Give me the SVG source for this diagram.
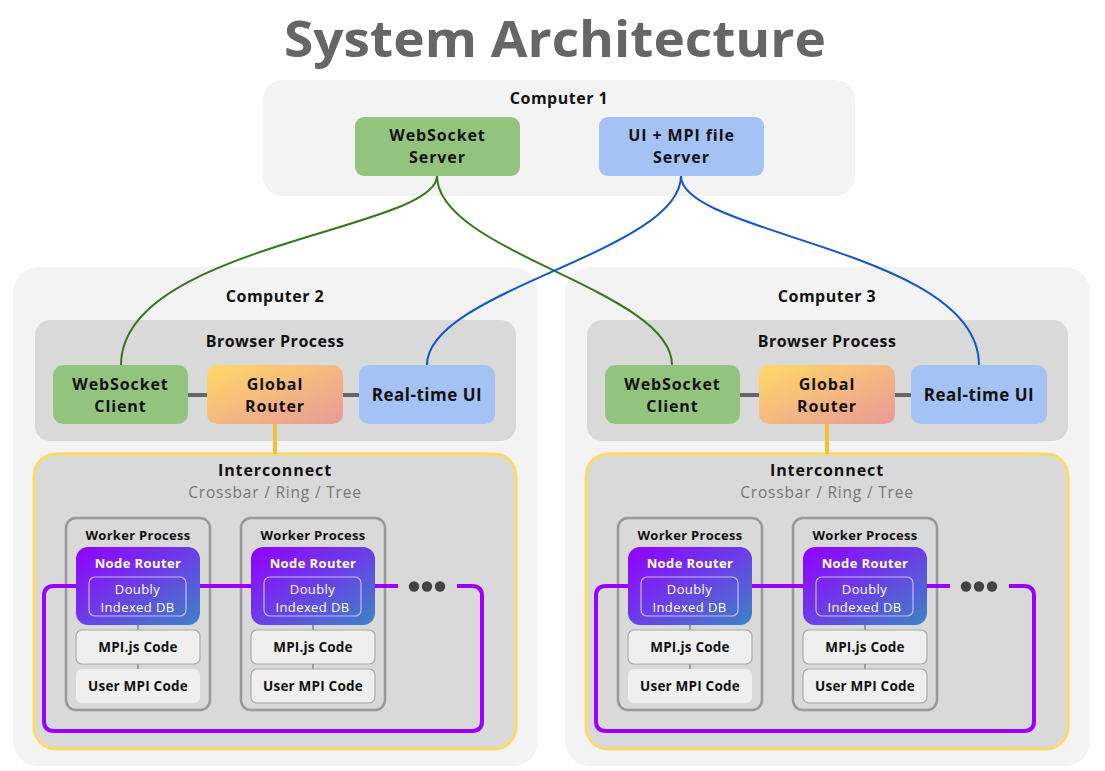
<svg xmlns="http://www.w3.org/2000/svg" width="1105" height="771" viewBox="0 0 1105 771">
<defs>
<linearGradient id="gGlobal" x1="0" y1="0" x2="1" y2="1"><stop offset="0" stop-color="#ffd966"/><stop offset="1" stop-color="#ea9999"/></linearGradient>
<linearGradient id="gNode" x1="0" y1="0" x2="1" y2="1"><stop offset="0" stop-color="#9400ff"/><stop offset="0.5" stop-color="#6a3ee6"/><stop offset="1" stop-color="#3d85c6"/></linearGradient>
<style>
text{font-family:"Open Sans","Noto Sans","Liberation Sans",sans-serif;text-anchor:middle}
.title{font-size:50px;font-weight:700;fill:#666}
.cmp{fill:#f3f3f3}
.lbl{font-size:16px;font-weight:700;fill:#111;letter-spacing:0.5px}
.nt{font-size:17px;font-weight:700;fill:#111;letter-spacing:0.5px}
.nt2{font-size:16px;font-weight:700;fill:#111;letter-spacing:0.9px}
.ic{font-size:16px;font-weight:700;fill:#111;letter-spacing:0.9px}
.proc{fill:#d9d9d9}
.green{fill:#93c47d}
.blue{fill:#a4c2f4}
.sub{font-size:15.5px;fill:#777;letter-spacing:0.8px}
.wp{fill:#d9d9d9;stroke:#999;stroke-width:2.5}
.wpt{font-size:13px;font-weight:700;fill:#111;letter-spacing:0.3px}
.nr{fill:url(#gNode)}
.nrt{font-size:13px;font-weight:700;fill:#fff;letter-spacing:0.4px}
.db{fill:none;stroke:#c8b9f2;stroke-width:1.2}
.dbt{font-size:13px;fill:#fff;letter-spacing:0.4px}
.code{fill:#efefef;stroke:#aaa;stroke-width:1.2}
.code0{fill:#efefef}
.ct{font-size:13.5px;font-weight:700;fill:#111;letter-spacing:0.2px}
.gl{stroke:#38761d;stroke-width:2;fill:none}
.bl{stroke:#1155cc;stroke-width:2;fill:none}
.gray{stroke:#666;stroke-width:4}
.yel{stroke:#f1c232;stroke-width:4}
.tiny{stroke:#999;stroke-width:2}
.ring{stroke:#9900ff;stroke-width:4;fill:none}
.dot{fill:#434343}
</style>
</defs>
<rect width="1105" height="771" fill="#fff"/>
<text class="title" x="555" y="57" textLength="542" lengthAdjust="spacingAndGlyphs">System Architecture</text>

<g id="computer1">
<rect class="cmp" x="263" y="80" width="592" height="116" rx="20"/>
<text class="lbl" x="559" y="104">Computer 1</text>
<g id="ws-server"><rect class="green" x="355" y="117" width="165" height="59" rx="9"/><text class="nt2" x="437.5" y="141">WebSocket</text><text class="nt2" x="437.5" y="163">Server</text></g>
<g id="ui-server"><rect class="blue" x="599" y="117" width="165" height="59" rx="9"/><text class="nt2" x="681.5" y="141">UI + MPI file</text><text class="nt2" x="681.5" y="163">Server</text></g>
</g>

<g id="computer2">
<rect class="cmp" x="13" y="267" width="525" height="499" rx="25"/>
<text class="lbl" x="275" y="302">Computer 2</text>
<g id="browser2">
<rect class="proc" x="35" y="320" width="481" height="121" rx="15"/>
<text class="lbl" x="275" y="347">Browser Process</text>
</g>
<g id="interconnect2">
<rect class="proc" x="34" y="454" width="482" height="295" rx="22" stroke="#ffd966" stroke-width="3"/>
<text class="ic" x="275" y="475.5">Interconnect</text>
<text class="sub" x="275" y="497.5">Crossbar / Ring / Tree</text>
</g>
</g>

<g id="computer3">
<rect class="cmp" x="565" y="267" width="525" height="499" rx="25"/>
<text class="lbl" x="827" y="302">Computer 3</text>
<g id="browser3">
<rect class="proc" x="587" y="320" width="481" height="121" rx="15"/>
<text class="lbl" x="827" y="347">Browser Process</text>
</g>
<g id="interconnect3">
<rect class="proc" x="586" y="454" width="482" height="295" rx="22" stroke="#ffd966" stroke-width="3"/>
<text class="ic" x="827" y="475.5">Interconnect</text>
<text class="sub" x="827" y="497.5">Crossbar / Ring / Tree</text>
</g>
</g>

<g id="connectors">
<path class="gl" d="M437,176 C437,230 121,245 121,365"/>
<path class="gl" d="M437,176 C437,252 672,290 672,365"/>
<path class="bl" d="M681,176 C681,252 427,290 427,365"/>
<path class="bl" d="M681,176 C681,235 979,250 979,365"/>
<line class="gray" x1="188" y1="395" x2="207" y2="395"/>
<line class="gray" x1="343" y1="395" x2="359" y2="395"/>
<line class="yel" x1="275" y1="424" x2="275" y2="454"/>
<line class="gray" x1="740" y1="395" x2="759" y2="395"/>
<line class="gray" x1="895" y1="395" x2="911" y2="395"/>
<line class="yel" x1="827" y1="424" x2="827" y2="454"/>
</g>

<g id="browser-nodes2">
<g id="ws-client2"><rect class="green" x="53" y="365" width="135" height="59" rx="10"/><text class="nt2" x="120.5" y="389.5">WebSocket</text><text class="nt2" x="120.5" y="411.5">Client</text></g>
<g id="global-router2"><rect fill="url(#gGlobal)" x="207" y="365" width="136" height="59" rx="10"/><text class="nt2" x="275" y="389.5">Global</text><text class="nt2" x="275" y="411.5">Router</text></g>
<g id="rt-ui2"><rect class="blue" x="359" y="365" width="136" height="59" rx="10"/><text class="nt" x="427" y="400.5">Real-time UI</text></g>
</g>
<g id="browser-nodes3">
<g id="ws-client3"><rect class="green" x="605" y="365" width="135" height="59" rx="10"/><text class="nt2" x="672.5" y="389.5">WebSocket</text><text class="nt2" x="672.5" y="411.5">Client</text></g>
<g id="global-router3"><rect fill="url(#gGlobal)" x="759" y="365" width="136" height="59" rx="10"/><text class="nt2" x="827" y="389.5">Global</text><text class="nt2" x="827" y="411.5">Router</text></g>
<g id="rt-ui3"><rect class="blue" x="911" y="365" width="136" height="59" rx="10"/><text class="nt" x="979" y="400.5">Real-time UI</text></g>
</g>

<g id="worker-boxes">
<rect class="wp" x="66" y="518" width="144" height="192" rx="10"/>
<rect class="wp" x="241" y="518" width="144" height="192" rx="10"/>
<rect class="wp" x="618" y="518" width="144" height="192" rx="10"/>
<rect class="wp" x="793" y="518" width="144" height="192" rx="10"/>
</g>

<g id="ring-connectors">
<path class="ring" d="M398,586 H54 Q44,586 44,596 V721 Q44,731 54,731 H472 Q482,731 482,721 V596 Q482,586 472,586 H457"/>
<circle class="dot" cx="414" cy="586.5" r="5.2"/><circle class="dot" cx="427" cy="586.5" r="5.2"/><circle class="dot" cx="440" cy="586.5" r="5.2"/>
<path class="ring" d="M950,586 H606 Q596,586 596,596 V721 Q596,731 606,731 H1024 Q1034,731 1034,721 V596 Q1034,586 1024,586 H1009"/>
<circle class="dot" cx="966" cy="586.5" r="5.2"/><circle class="dot" cx="979" cy="586.5" r="5.2"/><circle class="dot" cx="992" cy="586.5" r="5.2"/>
<line class="tiny" x1="138" y1="625" x2="138" y2="630"/><line class="tiny" x1="138" y1="664" x2="138" y2="669"/>
<line class="tiny" x1="313" y1="625" x2="313" y2="630"/><line class="tiny" x1="313" y1="664" x2="313" y2="669"/>
<line class="tiny" x1="690" y1="625" x2="690" y2="630"/><line class="tiny" x1="690" y1="664" x2="690" y2="669"/>
<line class="tiny" x1="865" y1="625" x2="865" y2="630"/><line class="tiny" x1="865" y1="664" x2="865" y2="669"/>
</g>

<g id="worker2a">
<text class="wpt" x="138" y="540">Worker Process</text>
<g id="node-router2a"><rect class="nr" x="76" y="547" width="124" height="78" rx="12"/><text class="nrt" x="138" y="568">Node Router</text><rect class="db" x="89" y="577" width="97" height="39" rx="6"/><text class="dbt" x="137.5" y="593.5">Doubly</text><text class="dbt" x="137.5" y="611.5">Indexed DB</text></g>
<g id="mpijs2a"><rect class="code" x="76" y="630" width="124" height="34" rx="6"/><text class="ct" x="138" y="652">MPI.js Code</text></g>
<g id="user2a"><rect class="code0" x="76" y="669" width="124" height="34" rx="6"/><text class="ct" x="138" y="691">User MPI Code</text></g>
</g>
<g id="worker2b">
<text class="wpt" x="313" y="540">Worker Process</text>
<g id="node-router2b"><rect class="nr" x="251" y="547" width="124" height="78" rx="12"/><text class="nrt" x="313" y="568">Node Router</text><rect class="db" x="264" y="577" width="97" height="39" rx="6"/><text class="dbt" x="312.5" y="593.5">Doubly</text><text class="dbt" x="312.5" y="611.5">Indexed DB</text></g>
<g id="mpijs2b"><rect class="code" x="251" y="630" width="124" height="34" rx="6"/><text class="ct" x="313" y="652">MPI.js Code</text></g>
<g id="user2b"><rect class="code" x="251" y="669" width="124" height="34" rx="6"/><text class="ct" x="313" y="691">User MPI Code</text></g>
</g>
<g id="worker3a">
<text class="wpt" x="690" y="540">Worker Process</text>
<g id="node-router3a"><rect class="nr" x="628" y="547" width="124" height="78" rx="12"/><text class="nrt" x="690" y="568">Node Router</text><rect class="db" x="641" y="577" width="97" height="39" rx="6"/><text class="dbt" x="689.5" y="593.5">Doubly</text><text class="dbt" x="689.5" y="611.5">Indexed DB</text></g>
<g id="mpijs3a"><rect class="code" x="628" y="630" width="124" height="34" rx="6"/><text class="ct" x="690" y="652">MPI.js Code</text></g>
<g id="user3a"><rect class="code0" x="628" y="669" width="124" height="34" rx="6"/><text class="ct" x="690" y="691">User MPI Code</text></g>
</g>
<g id="worker3b">
<text class="wpt" x="865" y="540">Worker Process</text>
<g id="node-router3b"><rect class="nr" x="803" y="547" width="124" height="78" rx="12"/><text class="nrt" x="865" y="568">Node Router</text><rect class="db" x="816" y="577" width="97" height="39" rx="6"/><text class="dbt" x="864.5" y="593.5">Doubly</text><text class="dbt" x="864.5" y="611.5">Indexed DB</text></g>
<g id="mpijs3b"><rect class="code" x="803" y="630" width="124" height="34" rx="6"/><text class="ct" x="865" y="652">MPI.js Code</text></g>
<g id="user3b"><rect class="code" x="803" y="669" width="124" height="34" rx="6"/><text class="ct" x="865" y="691">User MPI Code</text></g>
</g>
</svg>
